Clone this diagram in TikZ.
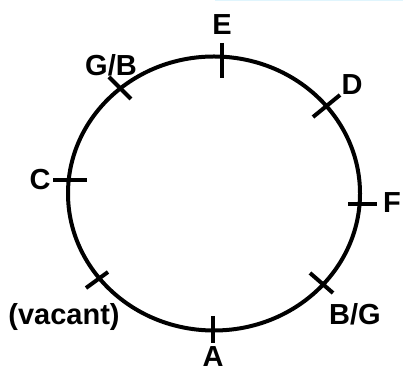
\documentclass[tikz,border=0pt]{standalone}
\usepackage{fontspec}
\setmainfont{Liberation Sans}
\begin{document}
\begin{tikzpicture}[x=1pt,y=1pt,
  lbl/.style={font=\fontsize{29}{32}\selectfont\bfseries, inner sep=0pt},
  tick/.style={line width=4pt},
  ring/.style={line width=4pt}]
\useasboundingbox (0,0) rectangle (403,371);
\fill[cyan!12] (215,369.5) rectangle (403,371);
% circle
\coordinate (ctr) at (214,177.5);
\draw[ring] (ctr) ellipse [x radius=146, y radius=137];
% ticks
\coordinate (e1) at (222,328); \coordinate (e2) at (222,293);
\coordinate (gb1) at (109,294); \coordinate (gb2) at (131,272);
\coordinate (d1) at (313,254); \coordinate (d2) at (340,276);
\coordinate (c1) at (53,191); \coordinate (c2) at (87,191);
\coordinate (f1) at (348,167); \coordinate (f2) at (377,167);
\coordinate (v1) at (86,83); \coordinate (v2) at (108,99);
\coordinate (bg1) at (310,98); \coordinate (bg2) at (333,78);
\coordinate (a1) at (213,55); \coordinate (a2) at (213,28);
\draw[tick] (e1) -- (e2);
\draw[tick] (gb1) -- (gb2);
\draw[tick] (d1) -- (d2);
\draw[tick] (c1) -- (c2);
\draw[tick] (f1) -- (f2);
\draw[tick] (v1) -- (v2);
\draw[tick] (bg1) -- (bg2);
\draw[tick] (a1) -- (a2);
% labels
\node[lbl] (E) at (222,346) {E};
\node[lbl] (GB) at (111,306) {G/B};
\node[lbl] (D) at (352,286) {D};
\node[lbl] (C) at (40,191) {C};
\node[lbl] (F) at (392,168) {F};
\node[lbl] (V) at (64,54) {(vacant)};
\node[lbl] (BG) at (355,57) {B/G};
\node[lbl] (A) at (213,14) {A};
\end{tikzpicture}
\end{document}
